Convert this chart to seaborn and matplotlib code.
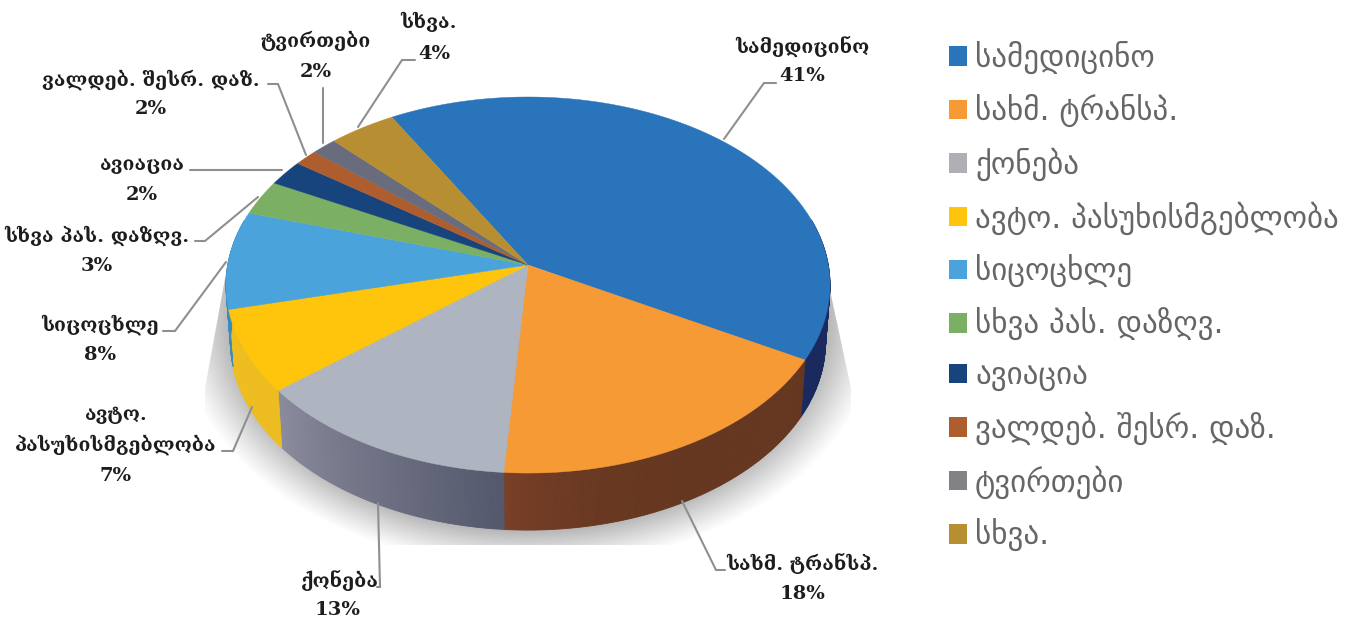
import numpy as np
import matplotlib
matplotlib.use("Agg")
import matplotlib.pyplot as plt
from matplotlib.patches import Patch, Polygon
from matplotlib.colors import to_rgb
import seaborn as sns

categories = ["სამედიცინო", "სახმ. ტრანსპ.", "ქონება", "ავტო. პასუხისმგებლობა", "სიცოცხლე",
              "სხვა პას. დაზღვ.", "ავიაცია", "ვალდებ. შესრ. დაზ.", "ტვირთები", "სხვა."]
values = [41.3, 18.1, 13.0, 7.1, 8.4, 3.0, 2.2, 1.4, 1.5, 4.0]
percent_labels = ["41%", "18%", "13%", "7%", "8%", "3%", "2%", "2%", "2%", "4%"]
top_colors = ["#2a74bb", "#f59a35", "#aeb4c0", "#fec50c", "#4aa3da",
              "#7baf63", "#17447c", "#ad5d2e", "#686c7c", "#b78f32"]
legend_colors = ["#2a74bb", "#f59a35", "#aeb0b5", "#fec50c", "#4aa3da",
                 "#7baf63", "#17447c", "#ad5d2e", "#808285", "#b78f32"]
wall_from = ["#1b2a5e", "#663720", "#54586c", "#eebd20", "#3a8bc0",
             "#5f8a4c", "#10305a", "#85461f", "#4f5260", "#8c6c24"]
wall_to = ["#1b2a5e", "#7a3f27", "#8a8b9c", "#eebd20", "#3a8bc0",
           "#5f8a4c", "#10305a", "#85461f", "#4f5260", "#8c6c24"]
wall_power = [1, 6, 1, 1, 1, 1, 1, 1, 1, 1]

sns.set_theme(style="white")
palette = sns.color_palette(top_colors)

fig = plt.figure(figsize=(13.51, 6.20), dpi=100)
ax = fig.add_axes([0, 0, 1, 1])
ax.set_xlim(0, 1351)
ax.set_ylim(620, 0)
ax.axis("off")

CX, CY, R, A, K = 528.0, 265.0, 300.3, 185.9, 0.1065
DEPTH, SHRINK = 57.0, 0.985
START = 119.7


def rim(t):
    t = np.radians(t)
    w = 1 + K * np.sin(t)
    return R * np.cos(t) / w, A * np.sin(t) / w


def top_xy(t):
    x, y = rim(t)
    return CX + x, CY - y


def low_xy(t):
    x, y = rim(t)
    return CX + SHRINK * x, CY - y + DEPTH


# soft shadow behind the pie
yy, xx = np.mgrid[0:620, 0:1351]
d = np.hypot((xx - 528) / 345.0, (yy - 318) / 245.0)
alpha = np.clip((1.02 - d) / 0.16, 0, 1) ** 1.1 * 0.46
rgba = np.zeros(xx.shape + (4,))
rgba[..., :3] = 0.35
rgba[..., 3] = alpha
im = ax.imshow(rgba, extent=(0, 1351, 620, 0), aspect="auto", zorder=1, interpolation="bilinear")
clip = Polygon([(228, 262), (205, 388), (205, 545), (851, 545), (851, 388), (830, 290)],
               transform=ax.transData, closed=True, fill=False, edgecolor="none")
ax.add_patch(clip)
im.set_clip_path(clip)
ax.set_xlim(0, 1351)
ax.set_ylim(620, 0)

# side wall then top wedges
edges = START - np.cumsum([0] + values) * 3.6
for i in range(len(values)):
    t0, t1 = edges[i], edges[i + 1]
    ts = np.linspace(t0, t1, int(abs(t1 - t0) * 2) + 2)
    c0, c1 = np.array(to_rgb(wall_from[i])), np.array(to_rgb(wall_to[i]))
    for j in range(len(ts) - 1):
        a, b = ts[j], ts[j + 1]
        if np.sin(np.radians((a + b) / 2)) > 0.25:
            continue
        f = (j / max(len(ts) - 2, 1)) ** wall_power[i]
        col = c0 + (c1 - c0) * f
        p = [top_xy(a), top_xy(b), low_xy(b), low_xy(a)]
        ax.fill(*zip(*p), color=col, lw=0.6, zorder=2)

for i in range(len(values)):
    ts = np.linspace(edges[i], edges[i + 1], 200)
    xs, ys = top_xy(ts)
    ax.fill(np.r_[CX, xs], np.r_[CY, ys], color=palette[i], lw=0.3, zorder=3)

# leader lines
leaders = [
    [(724, 139), (764, 83), (776, 83)],
    [(682, 501), (716, 570), (725, 570)],
    [(378, 503), (380, 587), (377, 587)],
    [(252, 407), (233, 451), (222, 451)],
    [(226, 262), (175, 331), (163, 331)],
    [(258, 197), (205, 241), (195, 241)],
    [(282, 170), (190, 170)],
    [(306, 155), (278, 84), (268, 84)],
    [(323, 143), (323, 88)],
    [(358, 127), (402, 60), (415, 60)],
]
for pts in leaders:
    ax.plot(*zip(*pts), color="#8f8f8f", lw=1.5, zorder=4, solid_joinstyle="miter")

# data labels: name lines, percent
label_lines = [
    ["სამედიცინო"], ["სახმ. ტრანსპ."], ["ქონება"], ["ავტო.", "პასუხისმგებლობა"], ["სიცოცხლე"],
    ["სხვა პას. დაზღვ."], ["ავიაცია"], ["ვალდებ. შესრ. დაზ."], ["ტვირთები"], ["სხვა."],
]
label_pos = [(802, 46), (802, 563), (340, 580), (116, 415), (100, 325), (97, 236),
             (142, 165), (151, 80), (316, 41), (428, 22)]
pct_pos = [(802, 76), (802, 594), (338, 610), (116, 476), (100, 355), (97, 266),
           (142, 195), (151, 109), (316, 72), (434, 54)]
label_font = dict(family="DejaVu Serif", fontweight="bold", fontsize=14, color="#1d1d1d",
                  ha="center", va="center", zorder=5)
for lines, (x, y), pct, pp in zip(label_lines, label_pos, percent_labels, pct_pos):
    yy0 = y
    for ln in lines:
        ax.text(x, yy0, ln, **label_font)
        yy0 += 30
    ax.text(pp[0], pp[1], pct, **label_font)

# legend
handles = [Patch(facecolor=c, edgecolor="none") for c in legend_colors]
leg = ax.legend(handles, categories, loc="upper left", bbox_to_anchor=(949, 41), bbox_transform=ax.transData,
                frameon=False, fontsize=22.3, labelcolor="#666666", handlelength=0.58, handleheight=0.58,
                handletextpad=0.26, labelspacing=0.652, borderpad=0, borderaxespad=0)

fig.savefig("out.png", dpi=100)
